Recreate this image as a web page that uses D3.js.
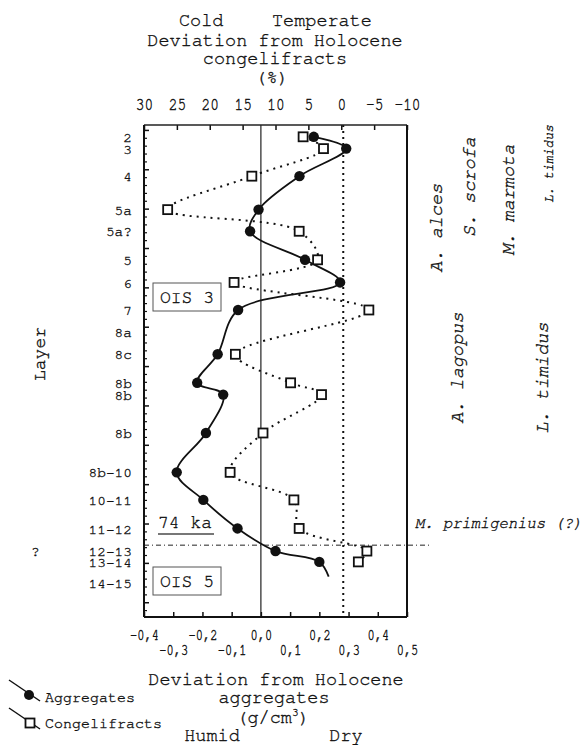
<!DOCTYPE html>
<html>
<head>
<meta charset="utf-8">
<script src="https://cdn.jsdelivr.net/npm/d3@7"></script>
<style>
  html, body { margin: 0; padding: 0; background: #fff; }
  svg { display: block; }
  text { font-family: "Nimbus Mono PS", "Nimbus Mono L", "FreeMono", "Courier New", "Courier", "Liberation Mono", monospace; fill: #111; stroke: #111; stroke-width: 0.35px; }
</style>
</head>
<body>
<svg id="chart" width="584" height="748"></svg>
<script>
// ---------------- DATA ----------------
const layers = ["2","3","4","5a","5a?","5","6","7","8a","8c","8b","8b","8b","8b-10","10-11","11-12","12-13","13-14","14-15"];
const depths = [7, 19, 47, 81, 103, 132, 155, 183, 205, 228, 257, 269, 308, 348, 376, 405, 428, 439, 460];
const aggregates = [0.181, 0.292, 0.132, -0.008, -0.037, 0.151, 0.271, -0.078, null, -0.148, -0.218, -0.129, -0.188, -0.288, -0.197, -0.080, 0.050, 0.200, null];
const congelifracts = [5.8, 2.7, 13.6, 26.4, 6.4, 3.6, 16.3, -4.2, null, 16.1, 7.7, 3.0, 11.9, 16.9, 7.2, 6.4, -3.9, -2.6, null];
const aggregatesCurveEnd = { value: 0.232, depth: 454 };
const topTicks = [30, 25, 20, 15, 10, 5, 0, -5, -10];
const bottomTicks = [-0.4, -0.3, -0.2, -0.1, 0.0, 0.1, 0.2, 0.3, 0.4, 0.5];
const boundary74ka = 422;
const speciesUpper = ["A. alces", "S. scrofa", "M. marmota", "L. timidus"];
const speciesLower = ["A. lagopus", "L. timidus"];

// ---------------- LAYOUT ----------------
const L = 144, R = 407, T = 125, B = 617;
const svg = d3.select("#chart");

const xAgg = d3.scaleLinear().domain([-0.4, 0.5]).range([L, R]);
const xCon = d3.scaleLinear().domain([30, -10]).range([L, R]);
const y = d3.scaleLinear().domain([-5, 495]).range([T, B]);

const fmtComma = d => d3.format(".1f")(d).replace(".", ",").replace("\u2212", "-");

// reference lines
svg.append("line")
  .attr("x1", xAgg(0)).attr("x2", xAgg(0)).attr("y1", T).attr("y2", B)
  .attr("stroke", "#222").attr("stroke-width", 1.2);
svg.append("line")
  .attr("x1", xCon(0) + 2).attr("x2", xCon(0) + 2).attr("y1", T).attr("y2", B)
  .attr("stroke", "#111").attr("stroke-width", 2).attr("stroke-dasharray", "2,4");

// 74 ka boundary (dash-dot)
svg.append("line")
  .attr("x1", L).attr("x2", 432).attr("y1", y(boundary74ka)).attr("y2", y(boundary74ka))
  .attr("stroke", "#222").attr("stroke-width", 1).attr("stroke-dasharray", "5,3,1,3");

// axes
const sY = 1.25;
const topAxis = d3.axisTop(xCon).tickValues(topTicks).tickSize(-5).tickFormat(d => String(d));
const gTop = svg.append("g").attr("transform", `translate(0,${T})`).call(topAxis);
gTop.select(".domain").remove();
gTop.selectAll("text").attr("font-size", 14.5).attr("dy", null)
  .attr("y", -15 / sY).attr("transform", `scale(1,${sY})`);
gTop.selectAll("line").attr("stroke", "#111").attr("stroke-width", 1.5);

const bottomAxis = d3.axisBottom(xAgg).tickValues(bottomTicks).tickSize(-5).tickFormat(fmtComma);
const gBot = svg.append("g").attr("transform", `translate(0,${B})`).call(bottomAxis);
gBot.select(".domain").remove();
gBot.selectAll("line").attr("stroke", "#111").attr("stroke-width", 1.5);
gBot.selectAll("text")
  .attr("font-size", 12).attr("dy", null)
  .attr("y", (d, i) => (i % 2 === 0 ? 23 : 38) / sY)
  .attr("transform", `scale(1,${sY})`);

const majorDepth = d3.range(0, 481, 40);
const minorDepth = d3.range(0, 495, 8).filter(d => d % 40 !== 0);
const gLeftMinor = svg.append("g").attr("transform", `translate(${L},0)`)
  .call(d3.axisLeft(y).tickValues(minorDepth).tickSize(-3).tickFormat(""));
gLeftMinor.select(".domain").remove();
gLeftMinor.selectAll("line").attr("stroke", "#111").attr("stroke-width", 1.2);
const gLeft = svg.append("g").attr("transform", `translate(${L},0)`)
  .call(d3.axisLeft(y).tickValues(majorDepth).tickSize(-5).tickFormat(""));
gLeft.select(".domain").remove();
gLeft.selectAll("line").attr("stroke", "#111").attr("stroke-width", 1.5);

// frame
svg.append("line").attr("x1", L).attr("x2", R).attr("y1", T).attr("y2", T).attr("stroke", "#222").attr("stroke-width", 1.3);
svg.append("line").attr("x1", L).attr("x2", L).attr("y1", T).attr("y2", B).attr("stroke", "#111").attr("stroke-width", 2);
svg.append("line").attr("x1", R).attr("x2", R).attr("y1", T).attr("y2", B).attr("stroke", "#111").attr("stroke-width", 2);
svg.append("line").attr("x1", L).attr("x2", R).attr("y1", B).attr("y2", B).attr("stroke", "#111").attr("stroke-width", 2);

// layer labels
svg.append("g").selectAll("text").data(layers).join("text")
  .attr("x", 132).attr("y", (d, i) => y(depths[i])).attr("dy", "0.35em")
  .attr("text-anchor", "end").attr("font-size", 14.5).text(d => d);
svg.append("text").attr("x", 31).attr("y", y(depths[16])).attr("dy", "0.35em")
  .attr("font-size", 14.5).text("?");

// series data
const aggPts = layers.map((l, i) => ({ v: aggregates[i], d: depths[i] })).filter(p => p.v !== null);
const conPts = layers.map((l, i) => ({ v: congelifracts[i], d: depths[i] })).filter(p => p.v !== null);

const aggLine = d3.line().x(p => xAgg(p.v)).y(p => y(p.d)).curve(d3.curveCatmullRom.alpha(0.5));
const conLine = d3.line().x(p => xCon(p.v)).y(p => y(p.d)).curve(d3.curveCatmullRom.alpha(0.5));

svg.append("path").datum(conPts).attr("d", conLine)
  .attr("fill", "none").attr("stroke", "#111").attr("stroke-width", 2).attr("stroke-dasharray", "2,5");
svg.append("path").datum(aggPts.concat([{ v: aggregatesCurveEnd.value, d: aggregatesCurveEnd.depth }])).attr("d", aggLine)
  .attr("fill", "none").attr("stroke", "#111").attr("stroke-width", 1.8);

svg.append("g").selectAll("rect").data(conPts).join("rect")
  .attr("x", p => xCon(p.v) - 4.5).attr("y", p => y(p.d) - 4.5)
  .attr("width", 9).attr("height", 9)
  .attr("fill", "#fff").attr("stroke", "#111").attr("stroke-width", 1.8);
svg.append("g").selectAll("circle").data(aggPts).join("circle")
  .attr("cx", p => xAgg(p.v)).attr("cy", p => y(p.d)).attr("r", 5.2).attr("fill", "#111");

// OIS boxes
function oisBox(x, yTop, label) {
  svg.append("rect").attr("x", x).attr("y", yTop).attr("width", 68).attr("height", 28)
    .attr("fill", "#fff").attr("stroke", "#555").attr("stroke-width", 1);
  svg.append("text").attr("x", x + 34).attr("y", yTop + 20).attr("text-anchor", "middle")
    .attr("font-size", 18).text(label);
}
oisBox(153, 283, "OIS 3");
oisBox(153, 567, "OIS 5");

svg.append("text").attr("x", 158).attr("y", 528).attr("font-size", 18).text("74 ka");
svg.append("line").attr("x1", 158).attr("x2", 214).attr("y1", 534).attr("y2", 534)
  .attr("stroke", "#777").attr("stroke-width", 2);

// species labels
const sp = [
  { t: speciesUpper[0], x: 442, y: 228, fs: 18.5 },
  { t: speciesUpper[1], x: 475, y: 187, fs: 18.5 },
  { t: speciesUpper[2], x: 514, y: 200, fs: 18.5 },
  { t: speciesUpper[3], x: 553, y: 164, fs: 13 },
  { t: speciesLower[0], x: 463, y: 368, fs: 18.5 },
  { t: speciesLower[1], x: 548, y: 378, fs: 18.5 }
];
svg.append("g").selectAll("text").data(sp).join("text")
  .attr("transform", d => `translate(${d.x},${d.y}) rotate(-90)`)
  .attr("text-anchor", "middle").attr("font-style", "italic").attr("font-size", d => d.fs)
  .text(d => d.t);
svg.append("text").attr("x", 415).attr("y", 528).attr("font-size", 15.5).attr("font-style", "italic")
  .text("M. primigenius (?)");

// axis title "Layer"
svg.append("text").attr("transform", "translate(45,354) rotate(-90)").attr("text-anchor", "middle")
  .attr("font-size", 18).text("Layer");

// top title
svg.append("text").attr("x", 179).attr("y", 26).attr("font-size", 18.5).text("Cold");
svg.append("text").attr("x", 272).attr("y", 26).attr("font-size", 18.5).text("Temperate");
svg.append("text").attr("x", 275).attr("y", 46).attr("text-anchor", "middle").attr("font-size", 18.5).text("Deviation from Holocene");
svg.append("text").attr("x", 275).attr("y", 64).attr("text-anchor", "middle").attr("font-size", 18.5).text("congelifracts");
svg.append("text").attr("x", 272).attr("y", 83).attr("text-anchor", "middle").attr("font-size", 18.5).text("(%)");

// bottom title
svg.append("text").attr("x", 276).attr("y", 685).attr("text-anchor", "middle").attr("font-size", 18.5).text("Deviation from Holocene");
svg.append("text").attr("x", 274).attr("y", 703).attr("text-anchor", "middle").attr("font-size", 18.5).text("aggregates");
const gcm = svg.append("text").attr("x", 273).attr("y", 723).attr("text-anchor", "middle").attr("font-size", 18.5);
gcm.append("tspan").text("(g/cm");
gcm.append("tspan").attr("font-size", 11).attr("dy", -7).text("3");
gcm.append("tspan").attr("dy", 7).text(")");
svg.append("text").attr("x", 212).attr("y", 741).attr("text-anchor", "middle").attr("font-size", 18.5).text("Humid");
svg.append("text").attr("x", 346).attr("y", 741).attr("text-anchor", "middle").attr("font-size", 18.5).text("Dry");

// legend
svg.append("line").attr("x1", 9).attr("y1", 680).attr("x2", 40).attr("y2", 701).attr("stroke", "#111").attr("stroke-width", 1.5);
svg.append("circle").attr("cx", 29).attr("cy", 695).attr("r", 5).attr("fill", "#111");
svg.append("text").attr("x", 45).attr("y", 702).attr("font-size", 15).text("Aggregates");
svg.append("line").attr("x1", 9).attr("y1", 708).attr("x2", 40).attr("y2", 729).attr("stroke", "#111").attr("stroke-width", 1.5);
svg.append("rect").attr("x", 25.5).attr("y", 718.5).attr("width", 9).attr("height", 9)
  .attr("fill", "#fff").attr("stroke", "#111").attr("stroke-width", 1.8);
svg.append("text").attr("x", 45).attr("y", 728).attr("font-size", 15).text("Congelifracts");
</script>
</body>
</html>
